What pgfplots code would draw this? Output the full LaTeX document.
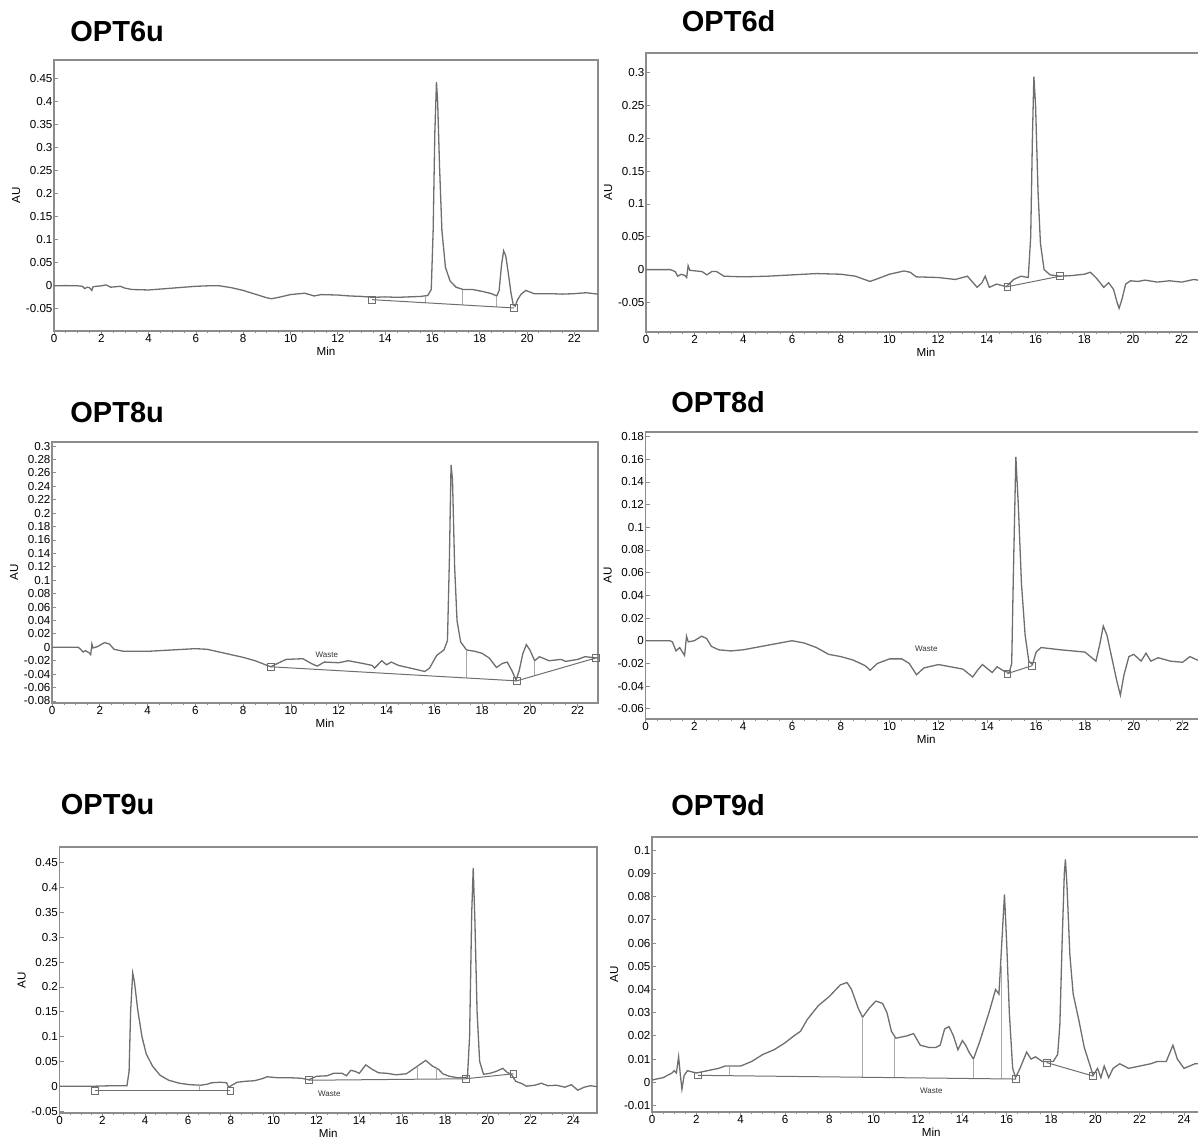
\documentclass[border=0pt]{standalone}
\usepackage{fontspec}
\setmainfont{Liberation Sans}
\usepackage{pgfplots}
\pgfplotsset{compat=1.18}
\definecolor{tr}{RGB}{110,110,110}
\definecolor{fr}{RGB}{140,140,140}
\tikzset{
  ttl/.style={anchor=west, inner sep=0pt, font=\fontsize{14.5}{15}\selectfont\bfseries},
  waste/.style={font=\fontsize{4}{4.5}\selectfont, text=black!80, inner sep=0pt},
}
\pgfplotsset{
  chrom/.style={
    scale only axis,
    anchor=south west,
    axis line style={fr, line width=0.6pt},
    tick style={fr, line width=0.4pt},
    major tick length=2pt,
    minor tick length=1.2pt,
    xtick align=outside, ytick align=inside,
    xtick pos=bottom, ytick pos=left,
    minor x tick num=3,
    ticklabel style={font=\fontsize{5.8}{6}\selectfont, text=black},
    /pgf/number format/assume math mode=true,
    yticklabel style={/pgf/number format/fixed, /pgf/number format/precision=2, xshift=2.75pt},
    xticklabel style={yshift=4pt},
    label style={font=\fontsize{5.8}{6}\selectfont},
    xlabel={Min}, ylabel={AU},
    xlabel style={yshift=4.5pt},
    ylabel style={yshift=-4pt},
    xmin=0,
  },
  trace/.style={tr, line width=0.65pt, no marks},
  base/.style={tr, line width=0.5pt, mark=square, mark size=1.7pt, mark options={solid, fill=white, line width=0.4pt}},
  drop/.style={tr!60, line width=0.3pt, no marks},
}
\begin{document}
\begin{tikzpicture}
\path[use as bounding box] (0,0) rectangle (599pt,570.5pt);

% ---------- OPT6u ----------
\node[ttl] at (35pt,554.5pt) {OPT6u};
\begin{axis}[chrom, at={(27pt,405pt)}, width=272pt, height=135.5pt,
  xmax=23, ymin=-0.098, ymax=0.49,
  xtick={0,2,...,22}, ytick={-0.05,0,0.05,0.1,0.15,0.2,0.25,0.3,0.35,0.4,0.45}]
\addplot[trace] coordinates {(0,0)(0.5,0.0005)(1.0,0)(1.2,-0.001)(1.3,-0.006)(1.4,-0.003)(1.5,-0.004)(1.6,-0.01)(1.65,-0.002)(1.8,-0.001)(2.0,0)(2.2,0.002)(2.4,-0.003)(2.6,-0.002)(2.8,-0.001)(3.0,-0.005)(3.3,-0.008)(4,-0.009)(5,-0.005)(6,-0.001)(6.5,0)(7,0)(7.5,-0.004)(8,-0.01)(8.5,-0.018)(9.0,-0.026)(9.2,-0.028)(9.5,-0.025)(10,-0.019)(10.6,-0.016)(11,-0.022)(11.3,-0.019)(12,-0.02)(12.5,-0.022)(13,-0.023)(13.5,-0.025)(14,-0.024)(14.5,-0.025)(15,-0.024)(15.5,-0.023)(15.8,-0.021)(15.95,-0.008)(16.03,0.12)(16.1,0.33)(16.17,0.442)(16.22,0.40)(16.3,0.26)(16.4,0.12)(16.55,0.04)(16.75,0.01)(17.0,-0.003)(17.3,-0.008)(17.7,-0.008)(18.1,-0.012)(18.5,-0.017)(18.72,-0.022)(18.82,-0.01)(18.92,0.045)(19.01,0.076)(19.1,0.065)(19.2,0.03)(19.32,-0.015)(19.42,-0.042)(19.5,-0.044)(19.6,-0.03)(19.75,-0.018)(19.95,-0.01)(20.1,-0.013)(20.3,-0.017)(21,-0.017)(21.5,-0.018)(22,-0.017)(22.5,-0.015)(23,-0.018)};
\addplot[drop] coordinates {(15.7,-0.0368)(15.7,-0.022)};
\addplot[drop] coordinates {(17.27,-0.0415)(17.27,-0.008)};
\addplot[drop] coordinates {(18.72,-0.0458)(18.72,-0.022)};
\addplot[base] coordinates {(13.45,-0.030)(19.45,-0.048)};
\end{axis}

% ---------- OPT6d ----------
\node[ttl] at (340.75pt,560pt) {OPT6d};
\begin{axis}[chrom, at={(323pt,404.5pt)}, width=280pt, height=139.5pt,
  xmax=23, ymin=-0.095, ymax=0.33,
  xtick={0,2,...,22}, ytick={-0.05,0,0.05,0.1,0.15,0.2,0.25,0.3}]
\addplot[trace] coordinates {(0,0)(1.0,0)(1.2,-0.003)(1.3,-0.01)(1.45,-0.007)(1.6,-0.009)(1.67,-0.012)(1.73,0.006)(1.8,-0.001)(2.3,-0.003)(2.5,-0.008)(2.7,-0.003)(2.9,-0.003)(3.2,-0.01)(4,-0.011)(5,-0.01)(6,-0.008)(7,-0.006)(8,-0.007)(8.6,-0.01)(9.2,-0.018)(9.5,-0.014)(10,-0.007)(10.6,-0.002)(10.85,-0.004)(11.1,-0.011)(12,-0.012)(12.7,-0.015)(13.2,-0.01)(13.6,-0.027)(13.8,-0.02)(13.93,-0.01)(14.1,-0.027)(14.4,-0.022)(14.8,-0.026)(15.1,-0.015)(15.4,-0.01)(15.7,-0.012)(15.8,0.05)(15.87,0.2)(15.93,0.294)(16.0,0.25)(16.1,0.12)(16.2,0.04)(16.35,0.0)(16.6,-0.008)(17.0,-0.01)(17.5,-0.009)(18.0,-0.007)(18.25,-0.004)(18.5,-0.013)(18.8,-0.027)(19.0,-0.02)(19.2,-0.03)(19.35,-0.05)(19.43,-0.059)(19.55,-0.045)(19.7,-0.022)(19.9,-0.017)(20.2,-0.018)(20.5,-0.016)(21,-0.019)(21.5,-0.017)(22,-0.019)(22.5,-0.015)(23,-0.018)};
\addplot[base] coordinates {(14.84,-0.026)(17.0,-0.010)};
\end{axis}

% ---------- OPT8u ----------
\node[ttl] at (35pt,364pt) {OPT8u};
\begin{axis}[chrom, at={(26pt,219pt)}, width=273pt, height=130.5pt,
  xmax=22.85, ymin=-0.083, ymax=0.306,
  xtick={0,2,...,22}, ytick={-0.08,-0.06,-0.04,-0.02,0,0.02,0.04,0.06,0.08,0.1,0.12,0.14,0.16,0.18,0.2,0.22,0.24,0.26,0.28,0.3}]
\addplot[trace] coordinates {(0,0)(1.1,0)(1.2,-0.003)(1.3,-0.007)(1.4,-0.005)(1.55,-0.008)(1.62,-0.011)(1.67,0.005)(1.72,-0.001)(1.9,0.001)(2.2,0.007)(2.4,0.005)(2.6,-0.003)(3,-0.006)(4,-0.006)(5,-0.004)(6,-0.002)(6.5,-0.003)(7,-0.007)(8,-0.015)(8.5,-0.02)(9.15,-0.029)(9.5,-0.023)(9.8,-0.018)(10.5,-0.017)(10.9,-0.025)(11.1,-0.028)(11.4,-0.022)(12,-0.023)(12.4,-0.02)(13,-0.024)(13.4,-0.027)(13.5,-0.031)(13.8,-0.02)(14,-0.026)(14.2,-0.022)(14.5,-0.027)(15,-0.031)(15.6,-0.036)(15.8,-0.031)(16.1,-0.012)(16.4,-0.004)(16.55,0.01)(16.63,0.13)(16.7,0.272)(16.76,0.25)(16.85,0.12)(16.95,0.04)(17.1,0.008)(17.35,-0.004)(17.7,-0.006)(18,-0.009)(18.3,-0.016)(18.6,-0.03)(18.85,-0.024)(19.05,-0.022)(19.25,-0.035)(19.42,-0.049)(19.55,-0.035)(19.7,-0.01)(19.85,0.004)(20.0,-0.004)(20.2,-0.02)(20.4,-0.014)(20.8,-0.02)(21.3,-0.018)(21.5,-0.021)(22,-0.018)(22.3,-0.014)(22.85,-0.016)};
\addplot[drop] coordinates {(17.35,-0.0457)(17.35,-0.004)};
\addplot[drop] coordinates {(20.2,-0.0423)(20.2,-0.02)};
\addplot[base] coordinates {(9.15,-0.029)(19.45,-0.05)(22.75,-0.016)};
\node[waste] at (axis cs:11.5,-0.011) {Waste};
\end{axis}

% ---------- OPT8d ----------
\node[ttl] at (335.5pt,369.5pt) {OPT8d};
\begin{axis}[chrom, at={(322.75pt,211pt)}, width=280.75pt, height=143.5pt,
  xmax=23, ymin=-0.069, ymax=0.184,
  xtick={0,2,...,22}, ytick={-0.06,-0.04,-0.02,0,0.02,0.04,0.06,0.08,0.1,0.12,0.14,0.16,0.18}]
\addplot[trace] coordinates {(0,0)(1.0,0)(1.1,-0.001)(1.25,-0.009)(1.4,-0.006)(1.6,-0.013)(1.68,0.004)(1.75,-0.001)(2.0,0)(2.3,0.004)(2.5,0.002)(2.7,-0.005)(3,-0.008)(3.5,-0.009)(4,-0.008)(5,-0.004)(6,0)(6.5,-0.002)(7,-0.006)(7.5,-0.012)(8,-0.014)(8.5,-0.017)(9,-0.022)(9.2,-0.026)(9.5,-0.02)(10,-0.016)(10.5,-0.016)(10.8,-0.02)(11.1,-0.03)(11.4,-0.024)(12,-0.021)(12.5,-0.023)(13,-0.025)(13.4,-0.032)(13.6,-0.026)(13.8,-0.021)(14.2,-0.028)(14.4,-0.023)(14.7,-0.027)(14.9,-0.028)(15.0,-0.02)(15.07,0.06)(15.17,0.162)(15.27,0.12)(15.4,0.05)(15.55,0.005)(15.7,-0.018)(15.85,-0.021)(16.0,-0.01)(16.2,-0.006)(17,-0.008)(17.5,-0.009)(18,-0.01)(18.45,-0.018)(18.62,-0.002)(18.75,0.013)(18.9,0.005)(19.1,-0.015)(19.3,-0.035)(19.45,-0.048)(19.6,-0.03)(19.8,-0.014)(20.0,-0.012)(20.3,-0.018)(20.5,-0.011)(20.7,-0.018)(21,-0.015)(21.5,-0.018)(22,-0.019)(22.3,-0.014)(22.6,-0.017)(23,-0.018)};
\addplot[base] coordinates {(14.82,-0.029)(15.84,-0.022)};
\node[waste] at (axis cs:11.5,-0.007) {Waste};
\end{axis}

% ---------- OPT9u ----------
\node[ttl] at (30.25pt,168pt) {OPT9u};
\begin{axis}[chrom, at={(29.75pt,14pt)}, width=268.75pt, height=133pt,
  xmax=25.1, ymin=-0.054, ymax=0.482,
  xtick={0,2,...,24}, ytick={-0.05,0,0.05,0.1,0.15,0.2,0.25,0.3,0.35,0.4,0.45}]
\addplot[trace] coordinates {(0,0)(1.6,0)(2.5,0.001)(3.15,0.001)(3.25,0.03)(3.32,0.15)(3.42,0.228)(3.5,0.21)(3.65,0.155)(3.85,0.1)(4.05,0.065)(4.35,0.04)(4.7,0.022)(5.1,0.012)(5.6,0.006)(6.1,0.003)(6.6,0.002)(6.9,0.004)(7.1,0.007)(7.5,0.008)(7.8,0.007)(7.9,-0.002)(8.05,0.002)(8.3,0.008)(8.7,0.01)(9.1,0.011)(9.45,0.015)(9.7,0.019)(10.2,0.017)(10.8,0.017)(11.3,0.016)(11.65,0.013)(12.0,0.02)(12.5,0.021)(12.8,0.026)(13.2,0.026)(13.4,0.021)(13.6,0.032)(13.8,0.03)(14.0,0.026)(14.3,0.043)(14.6,0.034)(14.9,0.027)(15.3,0.026)(15.7,0.023)(16.2,0.025)(16.5,0.034)(16.8,0.043)(17.1,0.052)(17.4,0.041)(17.7,0.034)(17.9,0.025)(18.2,0.02)(18.6,0.017)(19.05,0.018)(19.15,0.1)(19.25,0.35)(19.32,0.44)(19.4,0.33)(19.5,0.15)(19.62,0.05)(19.8,0.024)(20.1,0.026)(20.4,0.03)(20.7,0.036)(20.9,0.028)(21.1,0.024)(21.3,0.01)(21.6,0.005)(21.8,0)(22.2,0.002)(22.5,0.006)(22.8,0.001)(23.2,0.002)(23.6,-0.002)(23.9,0.003)(24.2,-0.008)(24.5,-0.002)(24.8,0.001)(25.1,-0.001)};
\addplot[drop] coordinates {(16.7,0.014)(16.7,0.04)};
\addplot[drop] coordinates {(17.6,0.0144)(17.6,0.039)};
\addplot[drop] coordinates {(6.55,-0.009)(6.55,0.002)};
\addplot[base] coordinates {(1.65,-0.009)(7.98,-0.009)};
\addplot[base] coordinates {(11.65,0.012)(18.96,0.015)(21.2,0.025)};
\node[waste] at (axis cs:12.6,-0.016) {Waste};
\end{axis}

% ---------- OPT9d ----------
\node[ttl] at (335.5pt,168pt) {OPT9d};
\begin{axis}[chrom, at={(326pt,14.5pt)}, width=279.3pt, height=137.5pt,
  xmax=25.2, ymin=-0.0128, ymax=0.1057,
  xtick={0,2,...,24}, ytick={-0.01,0,0.01,0.02,0.03,0.04,0.05,0.06,0.07,0.08,0.09,0.1}]
\addplot[trace] coordinates {(0,0.001)(0.5,0.002)(0.9,0.004)(1.0,0.005)(1.1,0.004)(1.2,0.011)(1.28,0.003)(1.35,-0.003)(1.45,0.003)(1.6,0.005)(2.0,0.004)(2.5,0.005)(3.0,0.006)(3.3,0.007)(4.0,0.007)(4.5,0.009)(5.0,0.012)(5.5,0.014)(6.0,0.017)(6.4,0.02)(6.7,0.022)(7.0,0.027)(7.5,0.033)(8.0,0.037)(8.5,0.042)(8.8,0.043)(9.0,0.04)(9.3,0.032)(9.5,0.028)(9.8,0.032)(10.1,0.035)(10.4,0.034)(10.6,0.03)(10.8,0.022)(11.0,0.019)(11.5,0.02)(11.8,0.021)(12.1,0.016)(12.5,0.015)(12.8,0.015)(13.0,0.016)(13.2,0.023)(13.4,0.024)(13.6,0.02)(13.8,0.014)(14.0,0.018)(14.15,0.016)(14.3,0.013)(14.5,0.01)(14.8,0.018)(15.2,0.03)(15.5,0.04)(15.65,0.038)(15.75,0.055)(15.9,0.081)(16.0,0.06)(16.12,0.03)(16.27,0.006)(16.4,0.002)(16.6,0.006)(16.9,0.013)(17.1,0.01)(17.3,0.011)(17.6,0.009)(18.1,0.009)(18.3,0.012)(18.4,0.025)(18.5,0.06)(18.6,0.09)(18.65,0.096)(18.72,0.085)(18.85,0.055)(19.0,0.038)(19.25,0.027)(19.5,0.015)(19.7,0.009)(19.9,0.003)(20.1,0.006)(20.25,0.002)(20.4,0.007)(20.6,0.002)(20.8,0.006)(21.1,0.008)(21.5,0.006)(22.0,0.007)(22.5,0.008)(22.8,0.009)(23.2,0.009)(23.5,0.016)(23.7,0.01)(24.0,0.006)(24.5,0.008)(25.2,0.008)};
\addplot[drop] coordinates {(3.5,0.0028)(3.5,0.0068)};
\addplot[drop] coordinates {(9.5,0.0022)(9.5,0.028)};
\addplot[drop] coordinates {(10.95,0.002)(10.95,0.019)};
\addplot[drop] coordinates {(14.5,0.0016)(14.5,0.010)};
\addplot[drop] coordinates {(15.74,0.0015)(15.74,0.05)};
\addplot[base] coordinates {(2.08,0.003)(16.43,0.0014)};
\addplot[base] coordinates {(17.8,0.0085)(19.9,0.0027)};
\node[waste] at (axis cs:12.6,-0.0036) {Waste};
\end{axis}
\end{tikzpicture}
\end{document}
